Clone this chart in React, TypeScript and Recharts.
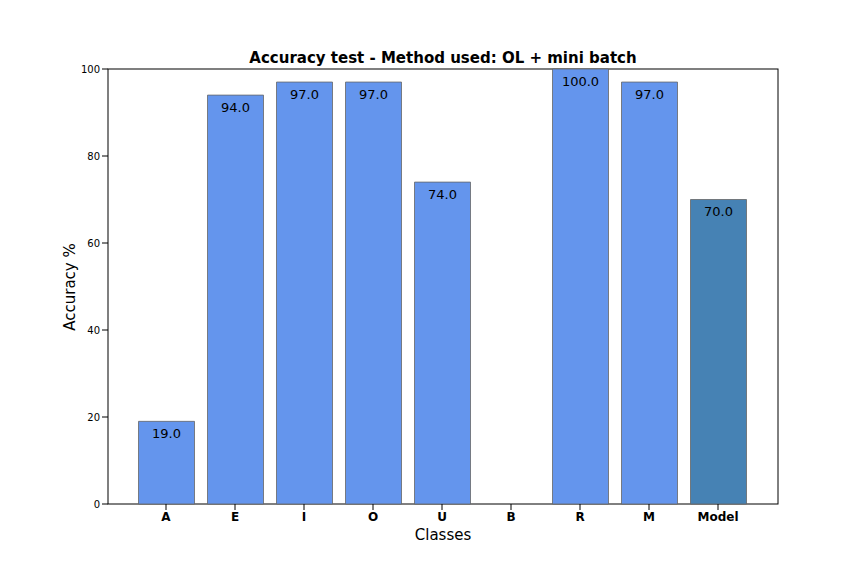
import React from "react";
import { BarChart, Bar, XAxis, YAxis, Cell, LabelList } from "recharts";

const categories = ["A", "E", "I", "O", "U", "B", "R", "M", "Model"];
const accuracy = [19, 94, 97, 97, 74, 0, 100, 97, 70];
const barColors = ["#6495ED", "#6495ED", "#6495ED", "#6495ED", "#6495ED", "#6495ED", "#6495ED", "#6495ED", "#4682B4"];
const yTicks = [0, 20, 40, 60, 80, 100];

const data = categories.map((c, i) => ({ name: c, value: accuracy[i] }));

const ValueLabel = (props: any) => {
  const { x, y, width, value } = props;
  const ty = value === 0 ? y - 10 : y + 13;
  return (
    <text x={x + width / 2} y={ty} textAnchor="middle" dominantBaseline="middle" fontSize={13} fill="#000" fontFamily="DejaVu Sans">
      {Number(value).toFixed(1)}
    </text>
  );
};

export default function App() {
  return (
    <div style={{ position: "absolute", left: 0, top: 0, width: 864, height: 576, background: "#fff", fontFamily: "DejaVu Sans" }}>
      <BarChart width={864} height={576} data={data} margin={{ top: 69, right: 86, bottom: 42, left: 48 }} barCategoryGap={0}>
        <text x={443} y={58} textAnchor="middle" dominantBaseline="middle" fontSize={15} fontWeight="bold" fontFamily="DejaVu Sans">
          Accuracy test - Method used: OL + mini batch
        </text>
        <text x={443} y={535} textAnchor="middle" dominantBaseline="middle" fontSize={15} fontFamily="DejaVu Sans">Classes</text>
        <text x={70} y={287} textAnchor="middle" dominantBaseline="middle" fontSize={15} fontFamily="DejaVu Sans" transform="rotate(-90 70 287)">Accuracy %</text>
        <rect x={108} y={69} width={670} height={435} fill="none" stroke="#000" strokeWidth={1} />
        <XAxis dataKey="name" height={30} padding={{ left: 23.5, right: 25.5 }} axisLine={false} tickLine={{ stroke: "#000" }}
          tick={{ fontSize: 12, fontWeight: "bold", fill: "#000" }} />
        <YAxis width={60} domain={[0, 100]} ticks={yTicks} axisLine={false} tickLine={{ stroke: "#000" }}
          tick={{ fontSize: 10, fill: "#000" }} />
        <Bar dataKey="value" barSize={56} isAnimationActive={false} stroke="#666" strokeWidth={0.8}>
          {data.map((d, i) => <Cell key={i} fill={barColors[i]} />)}
          <LabelList dataKey="value" content={ValueLabel} />
        </Bar>
      </BarChart>
    </div>
  );
}
